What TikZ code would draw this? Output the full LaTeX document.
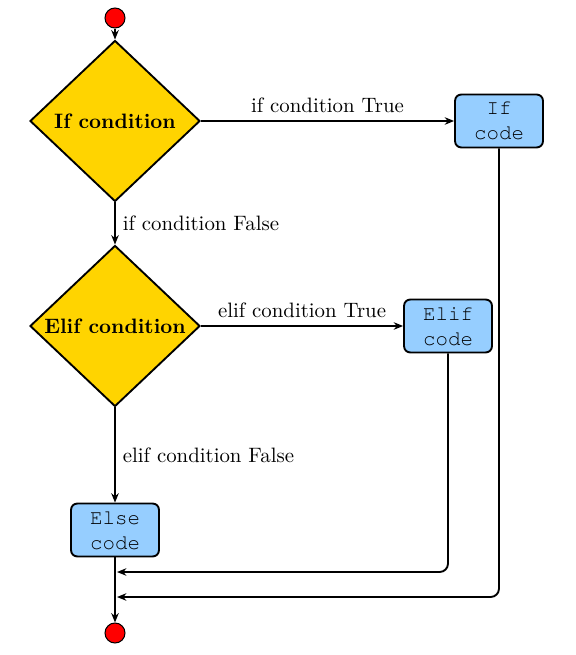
\documentclass[tikz,border=0pt]{standalone}
\usepackage[T1,TU]{fontenc}
\usetikzlibrary{arrows.meta,shapes.geometric}
\definecolor{condgold}{RGB}{255,212,0}
\definecolor{codeblue}{RGB}{150,206,255}
\newcommand{\codefont}{\fontencoding{T1}\fontfamily{pcr}\selectfont}

\begin{document}
\begin{tikzpicture}[
  x=0.48pt, y=-0.48pt,
  >={Stealth[length=4.5pt,width=3.6pt]},
  flow/.style={->, line width=0.9pt},
  cond/.style={diamond, draw, line width=0.9pt, fill=condgold, minimum width=81.6pt,
    minimum height=77.3pt, inner sep=0pt, font=\bfseries},
  codebox/.style={rectangle, draw, line width=0.9pt, rounded corners=3pt, fill=codeblue,
    minimum width=42.2pt, minimum height=25.4pt, inner sep=0pt, align=center, font=\codefont},
  terminal/.style={circle, draw, line width=0.5pt, fill=red, minimum size=9.6pt, inner sep=0pt},
  lab/.style={font=\normalsize}
]
\path[use as bounding box] (0,0) rectangle (575,655);

\node[terminal] (start) at (115,18) {};
\node[cond] (ifcond) at (115,121) {\makebox[0pt]{If condition}};
\node[cond] (elifcond) at (115,326) {\makebox[0pt]{Elif condition}};
\node[codebox] (ifcode) at (499,121) {If\\code};
\node[codebox] (elifcode) at (448,326) {Elif\\code};
\node[codebox] (elsecode) at (115,530) {Else\\code};
\node[terminal] (stop) at (115,633) {};

% merge points on the way down
\coordinate (elifjoin) at (117,572);
\coordinate (ifjoin) at (117,597);

\draw[flow] (start) -- (ifcond);
\draw[flow] (ifcond) -- node[right, lab] {if condition False} (elifcond);
\draw[flow] (ifcond.east) -- node[above, lab] {if condition True} (ifcode.west);
\draw[flow] (elifcond.east) -- node[above, lab] {elif condition True} (elifcode.west);
\draw[flow] (elifcond) -- node[right, lab] {elif condition False} (elsecode);
\draw[flow] (elsecode) -- (stop);
\draw[flow, rounded corners=4pt] (elifcode.south) |- (elifjoin);
\draw[flow, rounded corners=4pt] (ifcode.south) |- (ifjoin);
\end{tikzpicture}
\end{document}
